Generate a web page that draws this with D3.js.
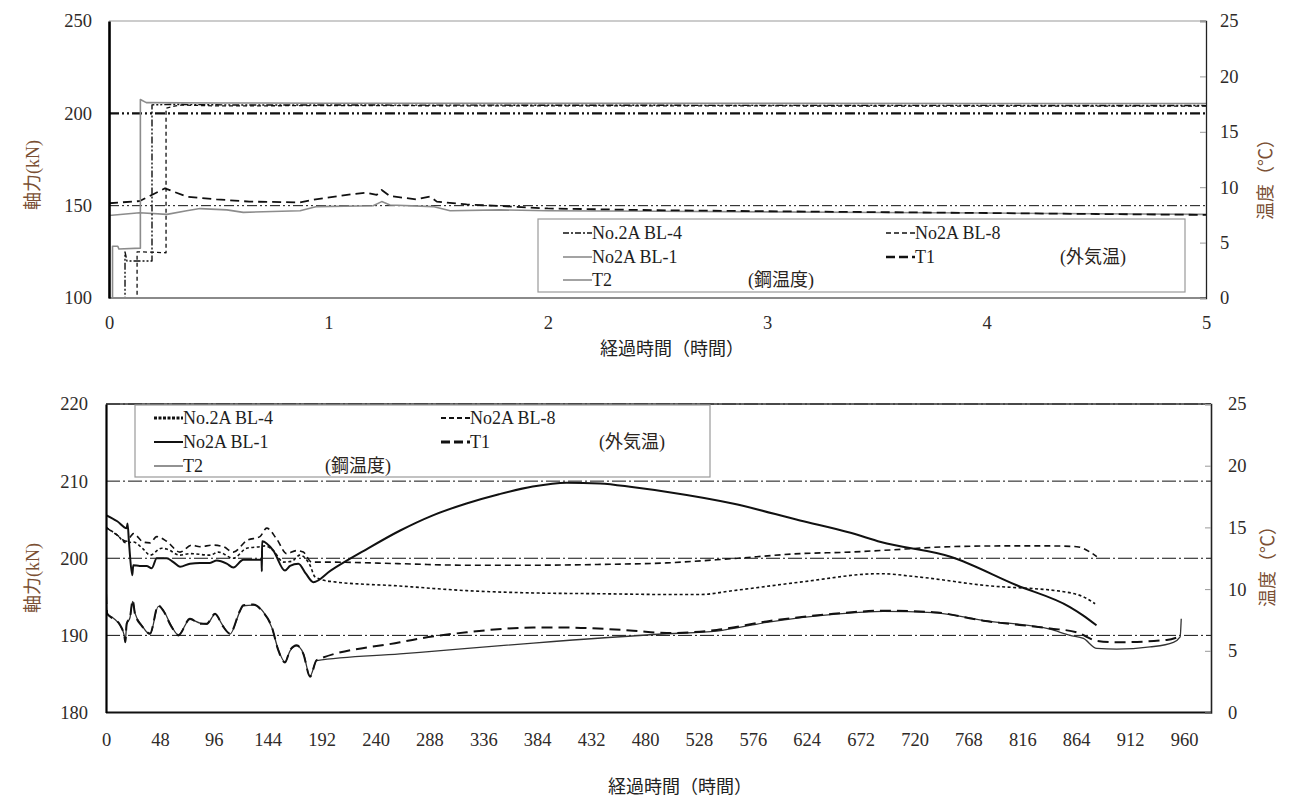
<!DOCTYPE html>
<html>
<head>
<meta charset="utf-8">
<script src="https://cdn.jsdelivr.net/npm/d3@7"></script>
<style>
  html, body { margin: 0; padding: 0; background: #fff; }
  svg { display: block; }
  text { font-family: "Liberation Serif", "Noto Sans CJK JP", serif; }
</style>
</head>
<body>
<svg id="chart" width="1295" height="801"></svg>
<script>
// ---------- Upper panel: first 5 hours (axial force kN, temperature °C) ----------
const topHourTicks  = [0, 1, 2, 3, 4, 5];
const topForceTicks = [100, 150, 200, 250];
const topTempTicks  = [0, 5, 10, 15, 20, 25];
const topGridForce  = [150, 200];

// [hours, kN]
const topBL4 = [[0.073, 60], [0.073, 125], [0.082, 120], [0.196, 120], [0.196, 204.6], [0.3, 204.8], [0.6, 204.5], [1, 204.5], [2, 204.4], [3, 204.3], [4, 204.3], [5, 204.2]];
const topBL8 = [[0.128, 60], [0.128, 125], [0.2, 124.8], [0.26, 124.5], [0.26, 202.8], [0.32, 204.5], [0.5, 204.0], [1, 204.2], [2, 204.0], [3, 204.0], [4, 203.9], [5, 203.9]];
const topBL1 = [[0.016, 60], [0.016, 128], [0.04, 128], [0.045, 126.5], [0.143, 127], [0.143, 207.5], [0.17, 205.8], [0.5, 205.6], [1, 205.5], [2, 205.4], [3, 205.4], [4, 205.3], [5, 205.3]];
// [hours, °C]
const topT1 = [[0, 8.55], [0.14, 8.75], [0.255, 9.9], [0.354, 9.15], [0.49, 8.9], [0.64, 8.7], [0.87, 8.63], [0.95, 8.93], [1.11, 9.38], [1.175, 9.5], [1.22, 9.3], [1.243, 9.75], [1.28, 9.2], [1.40, 8.9], [1.464, 9.15], [1.494, 8.7], [1.63, 8.45], [1.78, 8.3], [2.0, 8.08], [2.5, 7.92], [3.0, 7.83], [3.5, 7.75], [4.0, 7.67], [4.5, 7.58], [5.0, 7.5]];
const topT2 = [[0, 7.45], [0.14, 7.7], [0.264, 7.55], [0.354, 7.88], [0.415, 8.07], [0.537, 7.95], [0.612, 7.73], [0.871, 7.88], [0.947, 8.25], [1.204, 8.33], [1.243, 8.7], [1.281, 8.4], [1.477, 8.25], [1.555, 7.88], [1.783, 7.95], [2.0, 7.87], [2.5, 7.83], [3.0, 7.77], [3.5, 7.72], [4.0, 7.67], [4.5, 7.6], [5.0, 7.55]];

// ---------- Lower panel: whole period (hours) ----------
const botHourTicks  = [0, 48, 96, 144, 192, 240, 288, 336, 384, 432, 480, 528, 576, 624, 672, 720, 768, 816, 864, 912, 960];
const botForceTicks = [180, 190, 200, 210, 220];
const botTempTicks  = [0, 5, 10, 15, 20, 25];
const botGridForce  = [190, 200, 210];

// [hours, kN]
const botBL4 = [[0, 204.0], [10, 203.0], [18, 202.0], [24.3, 202.1], [33, 201.2], [39.2, 200.4], [49.6, 201.3], [54, 201.2], [65.9, 200.4], [74.8, 200.6], [92.6, 200.4], [100, 200.8], [113.4, 200.0], [125.3, 201.3], [137.1, 201.5], [141.6, 201.6], [149, 201.0], [157.9, 199.5], [165.3, 199.6], [172.7, 200.4], [181.6, 199.1], [186.1, 197.6], [199.5, 197.0], [261.8, 196.4], [321.2, 195.8], [380.5, 195.5], [440, 195.4], [499.3, 195.3], [529, 195.3], [558.4, 195.8], [618, 196.9], [689.3, 198.0], [722, 197.6], [781.3, 196.5], [855.6, 195.6], [870.4, 195.0], [880.8, 194.1]];
const botBL8 = [[0, 204.0], [10, 203.0], [18, 202.2], [22.9, 203.0], [24.3, 203.2], [33.2, 202.1], [39.2, 202.0], [45.2, 202.8], [54, 202.2], [65.9, 200.8], [76.3, 201.7], [83.7, 201.5], [95.6, 201.7], [104.5, 201.5], [113.4, 200.8], [125.3, 202.3], [137.1, 202.8], [143.1, 203.9], [152, 202.5], [160.9, 200.6], [169.8, 201.0], [175.7, 200.8], [183.2, 199.5], [190.6, 199.5], [199.5, 199.5], [260, 199.3], [320, 199.1], [380.5, 199.1], [440, 199.2], [499.3, 199.4], [558.4, 199.96], [618, 200.6], [662.6, 200.8], [689.3, 201.0], [751.6, 201.5], [800, 201.6], [840.7, 201.6], [864.5, 201.5], [876.3, 200.8], [882.3, 200.2]];
const botBL1 = [[0, 205.6], [10, 204.8], [18.4, 203.9], [19.2, 204.5], [20.5, 202.0], [23.4, 197.8], [24.3, 199.1], [30, 199.0], [36.2, 199.0], [40.7, 198.7], [45.2, 200.0], [54, 200.0], [60, 199.5], [65.9, 198.9], [74.8, 199.3], [83.7, 199.4], [92.6, 199.4], [98.6, 199.7], [107.5, 199.3], [113.4, 198.8], [122.3, 199.8], [138.5, 199.8], [138.8, 198.3], [139.0, 202.2], [149, 201.0], [159.4, 198.4], [163.9, 199.0], [171.3, 199.3], [178, 198.0], [184.6, 196.9], [200, 198.4], [230, 201.0], [262, 203.6], [290, 205.5], [321, 207.1], [350, 208.3], [380, 209.3], [410, 209.8], [440, 209.7], [470, 209.2], [500, 208.6], [558, 207.1], [618, 204.9], [663, 203.3], [690, 202.1], [752, 200.2], [811, 196.5], [858, 193.7], [870, 192.6], [882, 191.3]];
// [hours, °C]
const botT1 = [[0, 9.7], [1.0, 8.0], [6.5, 7.6], [12.5, 7.1], [16.5, 6.1], [17.2, 5.7], [18.4, 7.2], [21.4, 7.75], [23.8, 9.1], [25.8, 8.0], [32, 7.0], [39.2, 6.4], [46.6, 8.7], [51, 8.25], [58, 7.0], [64.4, 6.25], [74.8, 7.6], [83.7, 7.2], [89.7, 7.2], [97.1, 8.0], [104, 7.0], [110.4, 6.4], [119.3, 8.25], [122.3, 8.7], [131.2, 8.75], [140.1, 8.1], [147.6, 6.95], [153.4, 5.05], [159.4, 4.05], [163.9, 5.05], [169.8, 5.45], [175.7, 4.75], [181.7, 2.9], [187.6, 4.25], [261.8, 5.69], [279.6, 6.0], [321.2, 6.5], [380.5, 6.88], [410.3, 6.88], [469.6, 6.63], [499.3, 6.44], [543.9, 6.69], [588.4, 7.38], [647.7, 8.0], [692.2, 8.25], [736.8, 8.13], [781.3, 7.44], [840.7, 6.81], [864.5, 6.5], [882.3, 5.81], [900, 5.69], [944.6, 5.88], [955, 6.13], [958, 6.25]];
const botT2 = [[0, 9.6], [1.0, 8.05], [6.5, 7.65], [12.5, 7.05], [16.5, 6.15], [17.2, 5.75], [18.4, 7.15], [21.4, 7.7], [23.8, 9.0], [25.8, 8.05], [32, 7.05], [39.2, 6.35], [46.6, 8.6], [51, 8.3], [58, 7.05], [64.4, 6.3], [74.8, 7.55], [83.7, 7.25], [89.7, 7.15], [97.1, 7.95], [104, 7.05], [110.4, 6.35], [119.3, 8.2], [122.3, 8.65], [131.2, 8.7], [140.1, 8.15], [147.6, 6.9], [153.4, 5.1], [159.4, 4.1], [163.9, 5.0], [169.8, 5.4], [175.7, 4.8], [181.7, 2.95], [187.6, 4.2], [261.8, 4.75], [279.6, 4.88], [380.5, 5.63], [499.3, 6.38], [543.9, 6.6], [588.4, 7.3], [647.7, 7.95], [692.2, 8.2], [736.8, 8.1], [781.3, 7.45], [840.7, 6.75], [858.5, 6.25], [870.4, 6.0], [882.3, 5.19], [900, 5.13], [929.7, 5.31], [950.5, 5.69], [956.5, 6.13], [957.5, 7.6]];

// ---------- drawing ----------
const svg = d3.select("#chart");
const tickColor = "#2e2a28";
const titleColor = "#7a4f33";

function drawPanel(p) {
  const g = svg.append("g");
  const x = d3.scaleLinear().domain(p.xDomain).range([p.left, p.right]);
  const yL = d3.scaleLinear().domain(p.yDomain).range([p.bottom, p.top]);
  const yR = d3.scaleLinear().domain(p.tDomain).range([p.bottom, p.top]);

  const clipId = "clip-" + p.id;
  svg.append("clipPath").attr("id", clipId)
    .append("rect").attr("x", p.left).attr("y", p.top)
    .attr("width", p.right - p.left).attr("height", p.bottom - p.top);

  // horizontal reference lines
  g.selectAll(".grid").data(p.grid).join("line")
    .attr("x1", p.left).attr("x2", p.right)
    .attr("y1", d => yL(d.v)).attr("y2", d => yL(d.v))
    .attr("stroke", "#111").attr("stroke-width", d => d.w)
    .attr("stroke-dasharray", d => d.dash);

  // series
  const plot = g.append("g").attr("clip-path", `url(#${clipId})`);
  p.series.forEach(s => {
    const y = s.axis === "R" ? yR : yL;
    const line = d3.line().x(d => x(d[0])).y(d => y(d[1])).curve(p.curve);
    plot.append("path").datum(s.data)
      .attr("d", line).attr("fill", "none")
      .attr("stroke", s.color).attr("stroke-width", s.width)
      .attr("stroke-dasharray", s.dash || null)
      .attr("stroke-linejoin", "round");
  });

  // frame
  g.append("line").attr("x1", p.left).attr("x2", p.right).attr("y1", p.top).attr("y2", p.top)
    .attr("stroke", p.frame.topColor).attr("stroke-width", p.frame.topWidth);
  g.append("line").attr("x1", p.left).attr("x2", p.right).attr("y1", p.bottom).attr("y2", p.bottom)
    .attr("stroke", p.frame.bottomColor).attr("stroke-width", p.frame.bottomWidth);

  // left axis (no ticks)
  const axL = d3.axisLeft(yL).tickValues(p.yTicks).tickSize(0).tickPadding(p.leftPad);
  const gL = g.append("g").attr("transform", `translate(${p.left},0)`).call(axL);
  gL.select(".domain").attr("stroke", "#000").attr("stroke-width", p.frame.leftWidth);
  gL.selectAll("text").attr("font-size", 18.5).attr("fill", tickColor)
    .attr("font-family", "Liberation Serif");

  // right axis with inward ticks
  const axR = d3.axisRight(yR).tickValues(p.tTicks).tickSize(-6).tickPadding(p.rightPad);
  const gR = g.append("g").attr("transform", `translate(${p.right},0)`).call(axR);
  gR.select(".domain").attr("stroke", "#222").attr("stroke-width", p.frame.rightWidth);
  gR.selectAll(".tick line").attr("stroke", "#999");
  gR.selectAll("text").attr("font-size", 18.5).attr("fill", tickColor)
    .attr("font-family", "Liberation Serif");

  // bottom axis (labels only)
  const axB = d3.axisBottom(x).tickValues(p.xTicks).tickSize(0).tickPadding(p.bottomPad)
    .tickFormat(d3.format("d"));
  const gB = g.append("g").attr("transform", `translate(0,${p.bottom})`).call(axB);
  gB.select(".domain").remove();
  gB.selectAll("text").attr("font-size", 18.5).attr("fill", tickColor)
    .attr("font-family", "Liberation Serif");

  // axis titles
  g.append("text").attr("transform", `translate(${p.yTitleX},${p.yTitleY}) rotate(-90)`)
    .attr("text-anchor", "middle").attr("dominant-baseline", "central")
    .attr("font-size", 18).attr("fill", titleColor).text("軸力(kN)");
  g.append("text").attr("transform", `translate(${p.tTitleX},${p.tTitleY}) rotate(-90)`)
    .attr("text-anchor", "middle").attr("dominant-baseline", "central")
    .attr("font-size", 18).attr("fill", titleColor).text("温度（℃）");
  g.append("text").attr("x", p.xTitleX).attr("y", p.xTitleY)
    .attr("text-anchor", "middle").attr("dominant-baseline", "central")
    .attr("font-size", 18).attr("fill", "#222").text("経過時間（時間）");

  // legend
  const lg = g.append("g");
  lg.append("rect").attr("x", p.legend.x).attr("y", p.legend.y)
    .attr("width", p.legend.w).attr("height", p.legend.h)
    .attr("fill", "#fff").attr("stroke", "#9a9a9a").attr("stroke-width", 1.2);
  p.legend.items.forEach(it => {
    lg.append("line").attr("x1", it.x).attr("x2", it.x + 29)
      .attr("y1", it.y).attr("y2", it.y)
      .attr("stroke", it.s.color).attr("stroke-width", it.s.legendWidth || it.s.width)
      .attr("stroke-dasharray", it.s.legendDash || it.s.dash || null);
    lg.append("text").attr("x", it.x + 29).attr("y", it.y)
      .attr("dominant-baseline", "central").attr("font-size", 18)
      .attr("fill", "#1e1e1e").text(it.label);
  });
  p.legend.notes.forEach(n => {
    lg.append("text").attr("x", n.x).attr("y", n.y)
      .attr("dominant-baseline", "central").attr("font-size", 18)
      .attr("fill", "#2a2420").attr("font-family", "Noto Sans CJK JP").text(n.label);
  });
}

// ----- upper panel styles -----
const sTop = {
  BL4: { data: topBL4, axis: "L", color: "#111", width: 1.4, dash: "7,2,2,2,2,2", legendDash: "6,2,2,2" },
  BL8: { data: topBL8, axis: "L", color: "#111", width: 1.3, dash: "4,3", legendDash: "5,3" },
  BL1: { data: topBL1, axis: "L", color: "#8c8c8c", width: 1.6 },
  T1:  { data: topT1,  axis: "R", color: "#111", width: 1.8, dash: "9,5", legendWidth: 2.5, legendDash: "9,4" },
  T2:  { data: topT2,  axis: "R", color: "#8c8c8c", width: 1.6 }
};

drawPanel({
  id: "top",
  left: 109, right: 1206, top: 21, bottom: 298,
  xDomain: [0, 5], yDomain: [100, 250], tDomain: [0, 25],
  xTicks: topHourTicks, yTicks: topForceTicks, tTicks: topTempTicks,
  leftPad: 17, rightPad: 14, bottomPad: 18,
  curve: d3.curveLinear,
  grid: [
    { v: topGridForce[0], w: 1, dash: "10,3,2,3,2,3" },
    { v: topGridForce[1], w: 2.2, dash: "10,3,2,3,2,3" }
  ],
  series: [sTop.T2, sTop.T1, sTop.BL1, sTop.BL8, sTop.BL4],
  frame: { topColor: "#9a9a9a", topWidth: 1.2, bottomColor: "#8a8a8a", bottomWidth: 1.8, leftWidth: 2.6, rightWidth: 1.3 },
  yTitleX: 33, yTitleY: 175, tTitleX: 1266, tTitleY: 175,
  xTitleX: 672, xTitleY: 349,
  legend: {
    x: 538, y: 219, w: 647, h: 73,
    items: [
      { s: sTop.BL4, label: "No.2A BL-4", x: 563, y: 233 },
      { s: sTop.BL8, label: "No2A BL-8", x: 886, y: 233 },
      { s: sTop.BL1, label: "No2A BL-1", x: 563, y: 257 },
      { s: sTop.T1,  label: "T1",        x: 886, y: 257 },
      { s: sTop.T2,  label: "T2",        x: 563, y: 280 }
    ],
    notes: [
      { label: "(外気温)", x: 1060, y: 257 },
      { label: "(鋼温度)", x: 748, y: 280 }
    ]
  }
});

// ----- lower panel styles -----
const sBot = {
  BL4: { data: botBL4, axis: "L", color: "#111", width: 1.6, dash: "3,2.5", legendWidth: 3, legendDash: "3,1.5" },
  BL8: { data: botBL8, axis: "L", color: "#111", width: 1.6, dash: "6,4", legendWidth: 2.2, legendDash: "5,3" },
  BL1: { data: botBL1, axis: "L", color: "#111", width: 2.0 },
  T1:  { data: botT1,  axis: "R", color: "#111", width: 2.0, dash: "11,6", legendWidth: 3, legendDash: "9,4" },
  T2:  { data: botT2,  axis: "R", color: "#333", width: 1.3, legendWidth: 1.6 }
};

drawPanel({
  id: "bot",
  left: 106, right: 1211, top: 404, bottom: 712.5,
  xDomain: [0, 984], yDomain: [180, 220], tDomain: [0, 25],
  xTicks: botHourTicks, yTicks: botForceTicks, tTicks: botTempTicks,
  leftPad: 18, rightPad: 17, bottomPad: 20,
  curve: d3.curveMonotoneX,
  grid: botGridForce.map(v => ({ v: v, w: 1, dash: "14,3,2,3" }))
    .concat([{ v: 220, w: 1.2, dash: "14,3,2,3" }]),
  series: [sBot.T2, sBot.T1, sBot.BL4, sBot.BL8, sBot.BL1],
  frame: { topColor: "#333", topWidth: 1.6, bottomColor: "#111", bottomWidth: 2.2, leftWidth: 2.2, rightWidth: 1.6 },
  yTitleX: 33, yTitleY: 578, tTitleX: 1268, tTitleY: 562,
  xTitleX: 680, xTitleY: 787,
  legend: {
    x: 135, y: 405, w: 575, h: 72,
    items: [
      { s: sBot.BL4, label: "No.2A BL-4", x: 154, y: 418 },
      { s: sBot.BL8, label: "No2A BL-8", x: 441, y: 418 },
      { s: sBot.BL1, label: "No2A BL-1", x: 154, y: 442 },
      { s: sBot.T1,  label: "T1",        x: 441, y: 442 },
      { s: Object.assign({}, sBot.T2, { color: "#777" }), label: "T2", x: 154, y: 466 }
    ],
    notes: [
      { label: "(外気温)", x: 599, y: 442 },
      { label: "(鋼温度)", x: 325, y: 466 }
    ]
  }
});
</script>
</body>
</html>
